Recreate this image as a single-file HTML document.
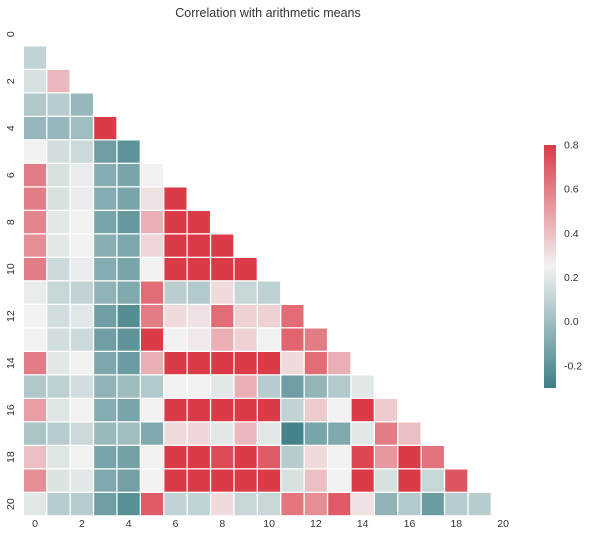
<!DOCTYPE html>
<html><head><meta charset="utf-8"><style>
body{margin:0;background:#fff;font-family:"Liberation Sans",sans-serif}
svg text{font-family:"Liberation Sans",sans-serif;fill:#333}
</style></head><body>
<svg id="chart" width="594" height="536" viewBox="0 0 594 536" xmlns="http://www.w3.org/2000/svg">
<rect width="594" height="536" fill="#fff"/>
<text x="268" y="17" font-size="12.5" text-anchor="middle">Correlation with arithmetic means</text>
<defs><linearGradient id="cbg" x1="0" y1="1" x2="0" y2="0">
<stop offset="0" stop-color="rgb(61,127,133)"/>
<stop offset="0.5" stop-color="rgb(242,242,242)"/>
<stop offset="1" stop-color="rgb(219,58,71)"/>
</linearGradient></defs>
<g id="cells"></g>
<g id="xt"></g><g id="yt"></g>
<rect x="544" y="145" width="12" height="243" fill="url(#cbg)"/>
<g id="cbt"></g>
</svg>
<script>
const rowValues = [
[],
[0.1],
[0.17,0.42],
[0.05,0.07,-0.03],
[-0.03,-0.03,0.0,0.8],
[0.25,0.15,0.13,-0.15,-0.2],
[0.6,0.17,0.22,-0.08,-0.12,0.25],
[0.6,0.17,0.22,-0.08,-0.12,0.3,0.8],
[0.58,0.2,0.25,-0.12,-0.18,0.45,0.8,0.8],
[0.55,0.2,0.25,-0.07,-0.11,0.33,0.8,0.8,0.8],
[0.6,0.13,0.22,-0.08,-0.12,0.25,0.8,0.8,0.8,0.8],
[0.22,0.12,0.1,-0.05,-0.1,0.65,0.08,0.06,0.32,0.12,0.09],
[0.25,0.15,0.2,-0.15,-0.23,0.6,0.32,0.3,0.65,0.35,0.35,0.65],
[0.25,0.15,0.13,-0.15,-0.2,0.8,0.25,0.28,0.45,0.35,0.25,0.67,0.6],
[0.6,0.2,0.25,-0.11,-0.16,0.45,0.8,0.8,0.8,0.8,0.8,0.32,0.65,0.45],
[0.05,0.09,0.15,-0.05,-0.01,0.06,0.25,0.25,0.2,0.45,0.07,-0.15,-0.04,0.06,0.2],
[0.5,0.19,0.25,-0.08,-0.12,0.25,0.8,0.8,0.8,0.8,0.8,0.1,0.37,0.25,0.8,0.37],
[0.03,0.07,0.13,-0.02,0.0,-0.1,0.32,0.33,0.2,0.42,0.2,-0.28,-0.12,-0.1,0.2,0.6,0.4],
[0.4,0.19,0.25,-0.12,-0.14,0.25,0.8,0.8,0.75,0.8,0.7,0.07,0.32,0.25,0.76,0.52,0.8,0.63],
[0.55,0.18,0.2,-0.1,-0.14,0.25,0.8,0.8,0.8,0.8,0.8,0.17,0.4,0.25,0.8,0.17,0.8,0.12,0.72],
[0.2,0.07,0.07,-0.15,-0.22,0.7,0.1,0.1,0.32,0.12,0.12,0.62,0.55,0.7,0.3,-0.05,0.06,-0.16,0.07,0.07]
];
const axisTickLabels = [0,2,4,6,8,10,12,14,16,18,20];
const colorbarTicks = [-0.2,0,0.2,0.4,0.6,0.8];
const vmin=-0.3, vmax=0.8, vcenter=0.25;
const gridLeft=24, gridTop=23, cw=23.4, ch=23.5;
const xPos=i=>gridLeft+i*cw, yPos=i=>gridTop+i*ch;
function color(v){
  v=Math.max(vmin,Math.min(vmax,v));
  const a=[61,127,133], m=[242,242,242], b=[219,58,71];
  let c;
  if(v<=vcenter){const t=(v-vmin)/(vcenter-vmin);c=a.map((x,k)=>x+(m[k]-x)*t);}
  else{const t=(v-vcenter)/(vmax-vcenter);c=m.map((x,k)=>x+(b[k]-x)*t);}
  return `rgb(${c.map(Math.round).join(',')})`;
}
const NS="http://www.w3.org/2000/svg";
const cells=document.getElementById('cells');
rowValues.forEach((row,i)=>row.forEach((v,j)=>{
  const r=document.createElementNS(NS,'rect');
  r.setAttribute('x',xPos(j));r.setAttribute('y',yPos(i));
  r.setAttribute('width',cw-1.3);r.setAttribute('height',ch-1.3);
  r.setAttribute('fill',color(v));
  
  
  cells.appendChild(r);
}));
const xt=document.getElementById('xt'), yt=document.getElementById('yt');
axisTickLabels.forEach(k=>{
  const t=document.createElementNS(NS,'text');
  t.setAttribute('x',xPos(k)+cw/2-0.6);t.setAttribute('y',527);
  t.setAttribute('font-size','10.5');t.setAttribute('text-anchor','middle');
  t.textContent=k;
  
  
  xt.appendChild(t);
  const u=document.createElementNS(NS,'text');
  const cy=yPos(k)+ch/2-0.6;
  u.setAttribute('transform',`translate(14,${cy}) rotate(-90)`);
  u.setAttribute('font-size','10.5');u.setAttribute('text-anchor','middle');
  u.textContent=k;
  
  
  yt.appendChild(u);
});
const cbt=document.getElementById('cbt');
colorbarTicks.forEach(v=>{
  const y=388-(v-vmin)/(vmax-vmin)*243;
  const t=document.createElementNS(NS,'text');
  t.setAttribute('x',564);t.setAttribute('y',y+3.5);t.setAttribute('font-size','10.5');
  t.textContent=v.toFixed(1);
  
  
  cbt.appendChild(t);
});
</script>
</body></html>
